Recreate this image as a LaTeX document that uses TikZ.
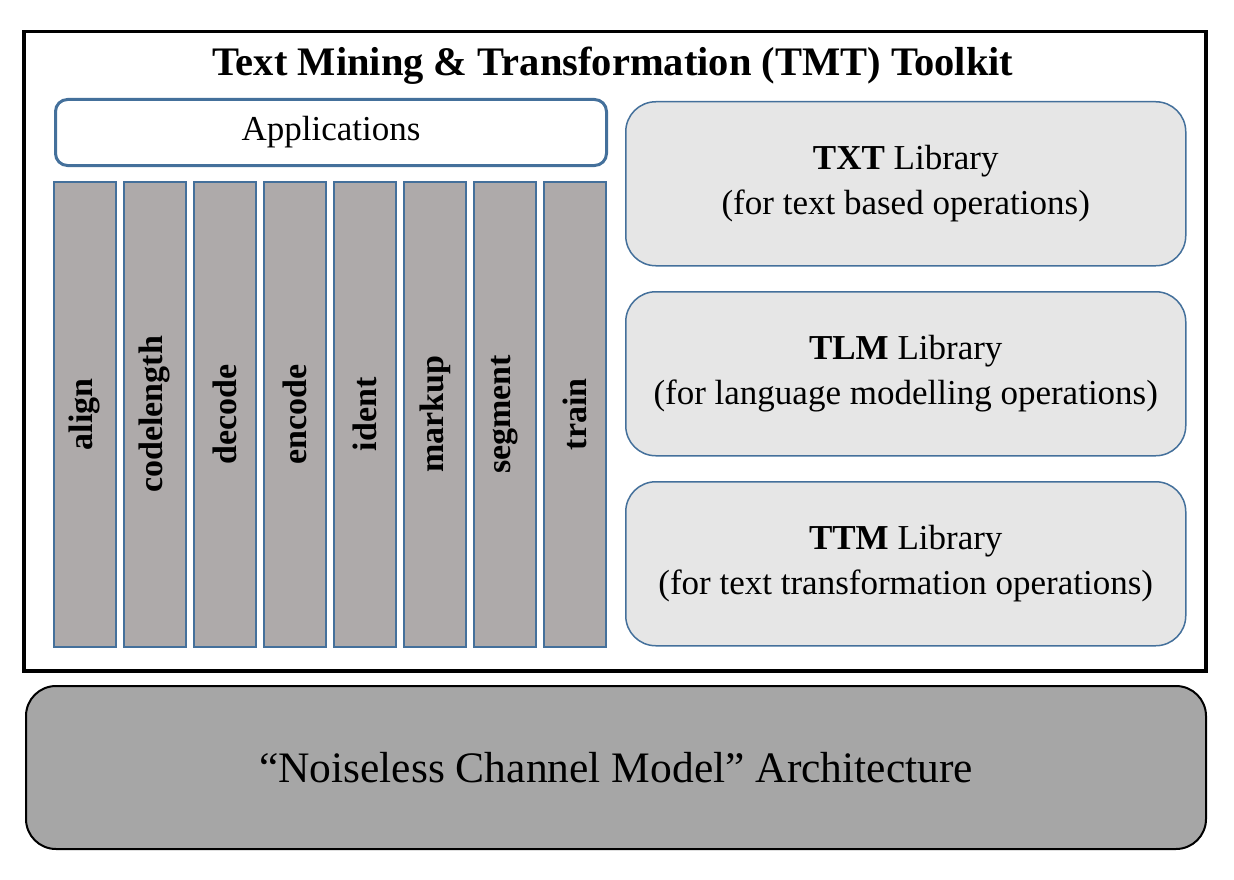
\documentclass[tikz,border=0pt]{standalone}
\usepackage{fontspec}
\setmainfont{Liberation Serif}
\definecolor{edgeblue}{HTML}{44709B}
\definecolor{barfill}{HTML}{AEAAAA}
\definecolor{libfill}{HTML}{E6E6E6}
\definecolor{archfill}{HTML}{A6A6A6}
\begin{document}
\begin{tikzpicture}[x=1pt,y=-1pt,
    appbar/.style={draw=edgeblue, line width=1.8pt, fill=barfill, inner sep=0pt,
      minimum width=62pt, minimum height=465pt, anchor=north west},
    barlabel/.style={rotate=90, font=\fontsize{34}{38}\selectfont\bfseries},
    libbox/.style={draw=edgeblue, line width=1.5pt, fill=libfill, rounded corners=30pt,
      minimum width=560pt, minimum height=164pt, anchor=north west, align=center,
      font=\fontsize{35}{45}\selectfont}]
  \useasboundingbox (0,0) rectangle (1234,880);
  % toolkit frame
  \node[draw, line width=3.5pt, minimum width=1182pt, minimum height=639pt,
    anchor=north west, inner sep=0pt] (toolkit) at (22,30) {};
  \node[font=\fontsize{40.5}{44}\selectfont\bfseries] (title) at (613,66)
    {Text Mining \& Transformation (TMT) Toolkit};
  \node[draw=edgeblue, line width=3pt, rounded corners=12pt, minimum width=551pt,
    minimum height=66pt, anchor=north west, font=\fontsize{35}{38}\selectfont]
    (apps) at (54,98) {Applications};
  \foreach \name [count=\i from 0] in {align, codelength, decode, encode, ident, markup, segment, train} {
    \node[appbar] (bar\name) at (53+70*\i,181) {};
    \node[barlabel] (lbl\name) at (bar\name.center) {\name};
  }
  % libraries
  \node[libbox] (txt) at (625,101) {\textbf{TXT} Library\\(for text based operations)};
  \node[libbox] (tlm) at (625,291) {\textbf{TLM} Library\\(for language modelling operations)};
  \node[libbox] (ttm) at (625,481) {\textbf{TTM} Library\\(for text transformation operations)};
  % architecture
  \node[draw, line width=2pt, fill=archfill, rounded corners=30pt, minimum width=1180pt,
    minimum height=163pt, anchor=north west, font=\fontsize{43.5}{46}\selectfont]
    (arch) at (25,685) {``Noiseless Channel Model'' Architecture};
\end{tikzpicture}
\end{document}
